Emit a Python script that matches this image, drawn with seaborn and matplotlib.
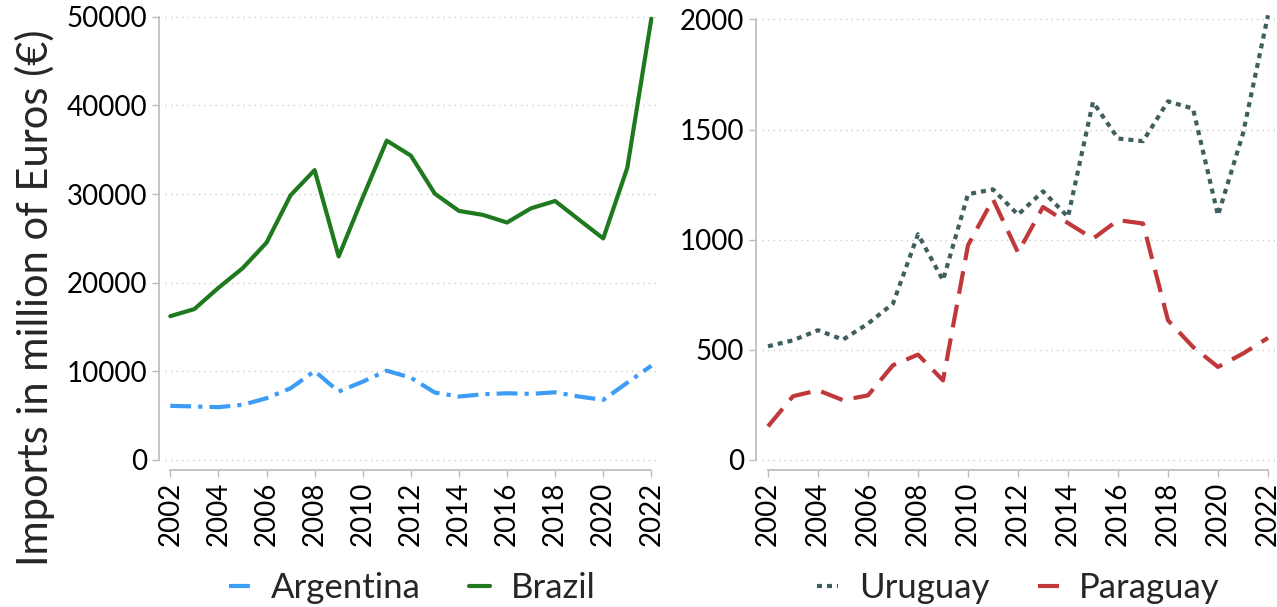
import numpy as np
import pandas as pd
import matplotlib
matplotlib.use("Agg")
import matplotlib.pyplot as plt
import seaborn as sns

years = list(range(2002, 2023))
argentina = [6070, 6000, 5920, 6180, 6930, 8050, 10000, 7680, 8800, 10040, 9250,
             7570, 7120, 7380, 7490, 7420, 7600, 7120, 6740, 8690, 10600]
brazil = [16200, 17000, 19400, 21600, 24500, 29850, 32700, 22950, 29600, 36030, 34340,
          30030, 28090, 27640, 26780, 28390, 29210, 27080, 24980, 32960, 49800]
uruguay = [515, 542, 588, 545, 618, 709, 1024, 815, 1206, 1228, 1113,
           1219, 1103, 1625, 1459, 1447, 1628, 1595, 1110, 1482, 2019]
paraguay = [151, 288, 315, 270, 292, 429, 477, 360, 974, 1183, 941,
            1148, 1075, 1004, 1088, 1073, 633, 512, 421, 482, 553]

left_names = ["Argentina", "Brazil"]
right_names = ["Uruguay", "Paraguay"]
colors = {"Argentina": "#3d9cf5", "Brazil": "#1f7a1f",
          "Uruguay": "#3f5f5f", "Paraguay": "#c0383a"}
dashes = {"Argentina": (5, 1.7, 1, 1.7), "Brazil": "",
          "Uruguay": (1.2, 1.2), "Paraguay": (5.5, 2.7)}

df_left = pd.DataFrame({"Year": years * 2,
                        "Value": argentina + brazil,
                        "Country": ["Argentina"] * 21 + ["Brazil"] * 21})
df_right = pd.DataFrame({"Year": years * 2,
                         "Value": uruguay + paraguay,
                         "Country": ["Uruguay"] * 21 + ["Paraguay"] * 21})

sns.set_theme(style="white")
plt.rcParams["font.family"] = ["Lato", "DejaVu Sans"]

W, H = 1277, 607
fig = plt.figure(figsize=(W / 100, H / 100), dpi=100)

def px_axes(x0, x1, ytop, ybot):
    return fig.add_axes([x0 / W, 1 - ybot / H, (x1 - x0) / W, (ybot - ytop) / H])

axL = px_axes(165, 660, 12, 464)
axR = px_axes(762, 1275, 12, 464)

for ax, df, names, ylim, yticks, xlim in [
        (axL, df_left, left_names, (-500, 50560), [0, 10000, 20000, 30000, 40000, 50000],
         (2001.78, 2022.36)),
        (axR, df_right, right_names, (-20, 2034), [0, 500, 1000, 1500, 2000],
         (2001.76, 2022.28))]:
    sns.lineplot(data=df, x="Year", y="Value", hue="Country", style="Country",
                 hue_order=names, style_order=names,
                 palette=colors, dashes=dashes, linewidth=3.0, ax=ax)
    sns.despine(ax=ax, offset=4)
    ax.set_ylim(*ylim)
    ax.set_xlim(*xlim)
    ax.set_yticks(yticks)
    ax.set_yticklabels([str(v) for v in yticks])
    ax.set_xticks(list(range(2002, 2023, 2)))
    ax.set_xticklabels([str(y) for y in range(2002, 2023, 2)], rotation=90)
    ax.tick_params(axis="both", labelsize=20, colors="#bbbbbb", labelcolor="black",
                   length=5, width=1, left=True, bottom=True, pad=4)
    ax.grid(axis="y", linestyle=(0, (1, 3)), color="#cccccc", linewidth=1)
    ax.grid(axis="x", visible=False)
    ax.set_xlabel("")
    ax.set_ylabel("")
    for s in ["left", "bottom"]:
        ax.spines[s].set_color("#bbbbbb")
        ax.spines[s].set_linewidth(1.2)
    ax.spines["bottom"].set_bounds(2002, 2022)
    ax.spines["left"].set_bounds(yticks[0], yticks[-1])
    h, l = ax.get_legend_handles_labels()
    ax.legend(h, l, loc="center", bbox_to_anchor=(0.5, -0.274), ncol=2,
              frameon=False, fontsize=25, handlelength=0.6, handletextpad=0.6,
              columnspacing=1.4, borderpad=0)

fig.text(0.027, 0.51, "Imports in million of Euros (€)", rotation=90,
         ha="center", va="center", fontsize=30)

fig.savefig("out.png", dpi=100)
